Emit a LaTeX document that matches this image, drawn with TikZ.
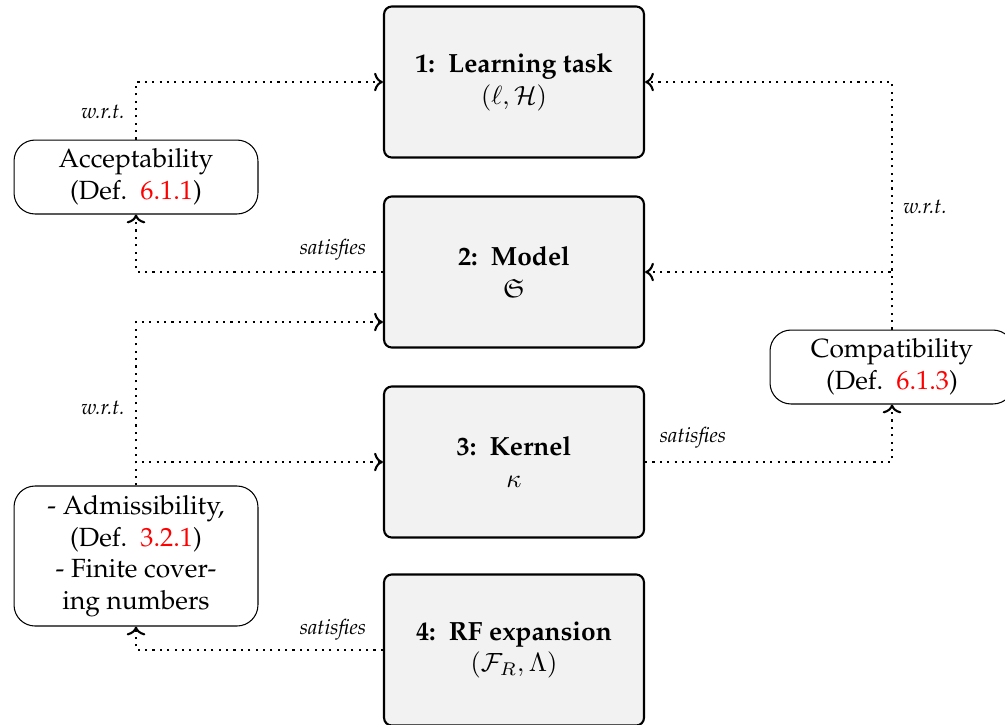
\documentclass[tikz,border=0pt]{standalone}
\usepackage[T1]{fontenc}
\usepackage{palatino}
\usepackage{amsmath}
\usepackage{amssymb}
\usepackage{xcolor}
\usetikzlibrary{arrows.meta, calc}

\begin{document}
\begin{tikzpicture}[
  x=0.38pt, y=-0.38pt,
  stage/.style={draw, thick, rounded corners=3pt, fill=gray!10, minimum width=98.8pt, minimum height=57.4pt, align=center},
  prop/.style={draw, rounded corners=8pt, minimum width=92.7pt, align=center, inner sep=2pt},
  conn/.style={->, thick, dotted},
  edgelabel/.style={font=\footnotesize\itshape}
]
\useasboundingbox (0,0) rectangle (1005,724);

% === Main stages ===
\node[stage] (task) at (514,82) {\textbf{1:\ \ Learning task}\\$(\ell,\mathcal{H})$};
\node[stage] (model) at (514,272) {\textbf{2:\ \ Model}\\$\mathfrak{S}$};
\node[stage] (kernel) at (514,462) {\textbf{3:\ \ Kernel}\\$\kappa$};
\node[stage] (rf) at (514,650) {\textbf{4:\ \ RF expansion}\\$(\mathcal{F}_R,\Lambda)$};

% === Properties ===
\node[prop, minimum height=28.1pt] (acc) at (136,177) {Acceptability\\(Def.\ \ \textcolor{red}{6.1.1})};
\node[prop, minimum height=53.2pt] (adm) at (136,556) {- Admissibility,\\(Def.\ \ \textcolor{red}{3.2.1})\\- Finite cover-\\ing numbers};
\node[prop, minimum height=28.1pt] (compat) at (892,367) {Compatibility\\(Def.\ \ \textcolor{red}{6.1.3})};

% === Connections ===
\draw[conn] (acc.north) |- (task.west);
\draw[conn] (model.west) -| (acc.south);
\draw[conn] (adm.north) |- ($(model.west)+(0,50)$);
\draw[conn] (adm.north) |- (kernel.west);
\draw[conn] (rf.west) -| (adm.south);
\draw[conn] (compat.north) |- (task.east);
\draw[conn] (compat.north) |- (model.east);
\draw[conn] (kernel.east) -| (compat.south);

% Labels
\node[edgelabel] (wrt1) at (103,112) {w.r.t.};
\node[edgelabel] (sat1) at (333,250) {satisfies};
\node[edgelabel] (wrt2) at (103,408) {w.r.t.};
\node[edgelabel] (sat2) at (333,630) {satisfies};
\node[edgelabel] (wrt3) at (925,207) {w.r.t.};
\node[edgelabel] (sat3) at (693,438) {satisfies};

\end{tikzpicture}
\end{document}
